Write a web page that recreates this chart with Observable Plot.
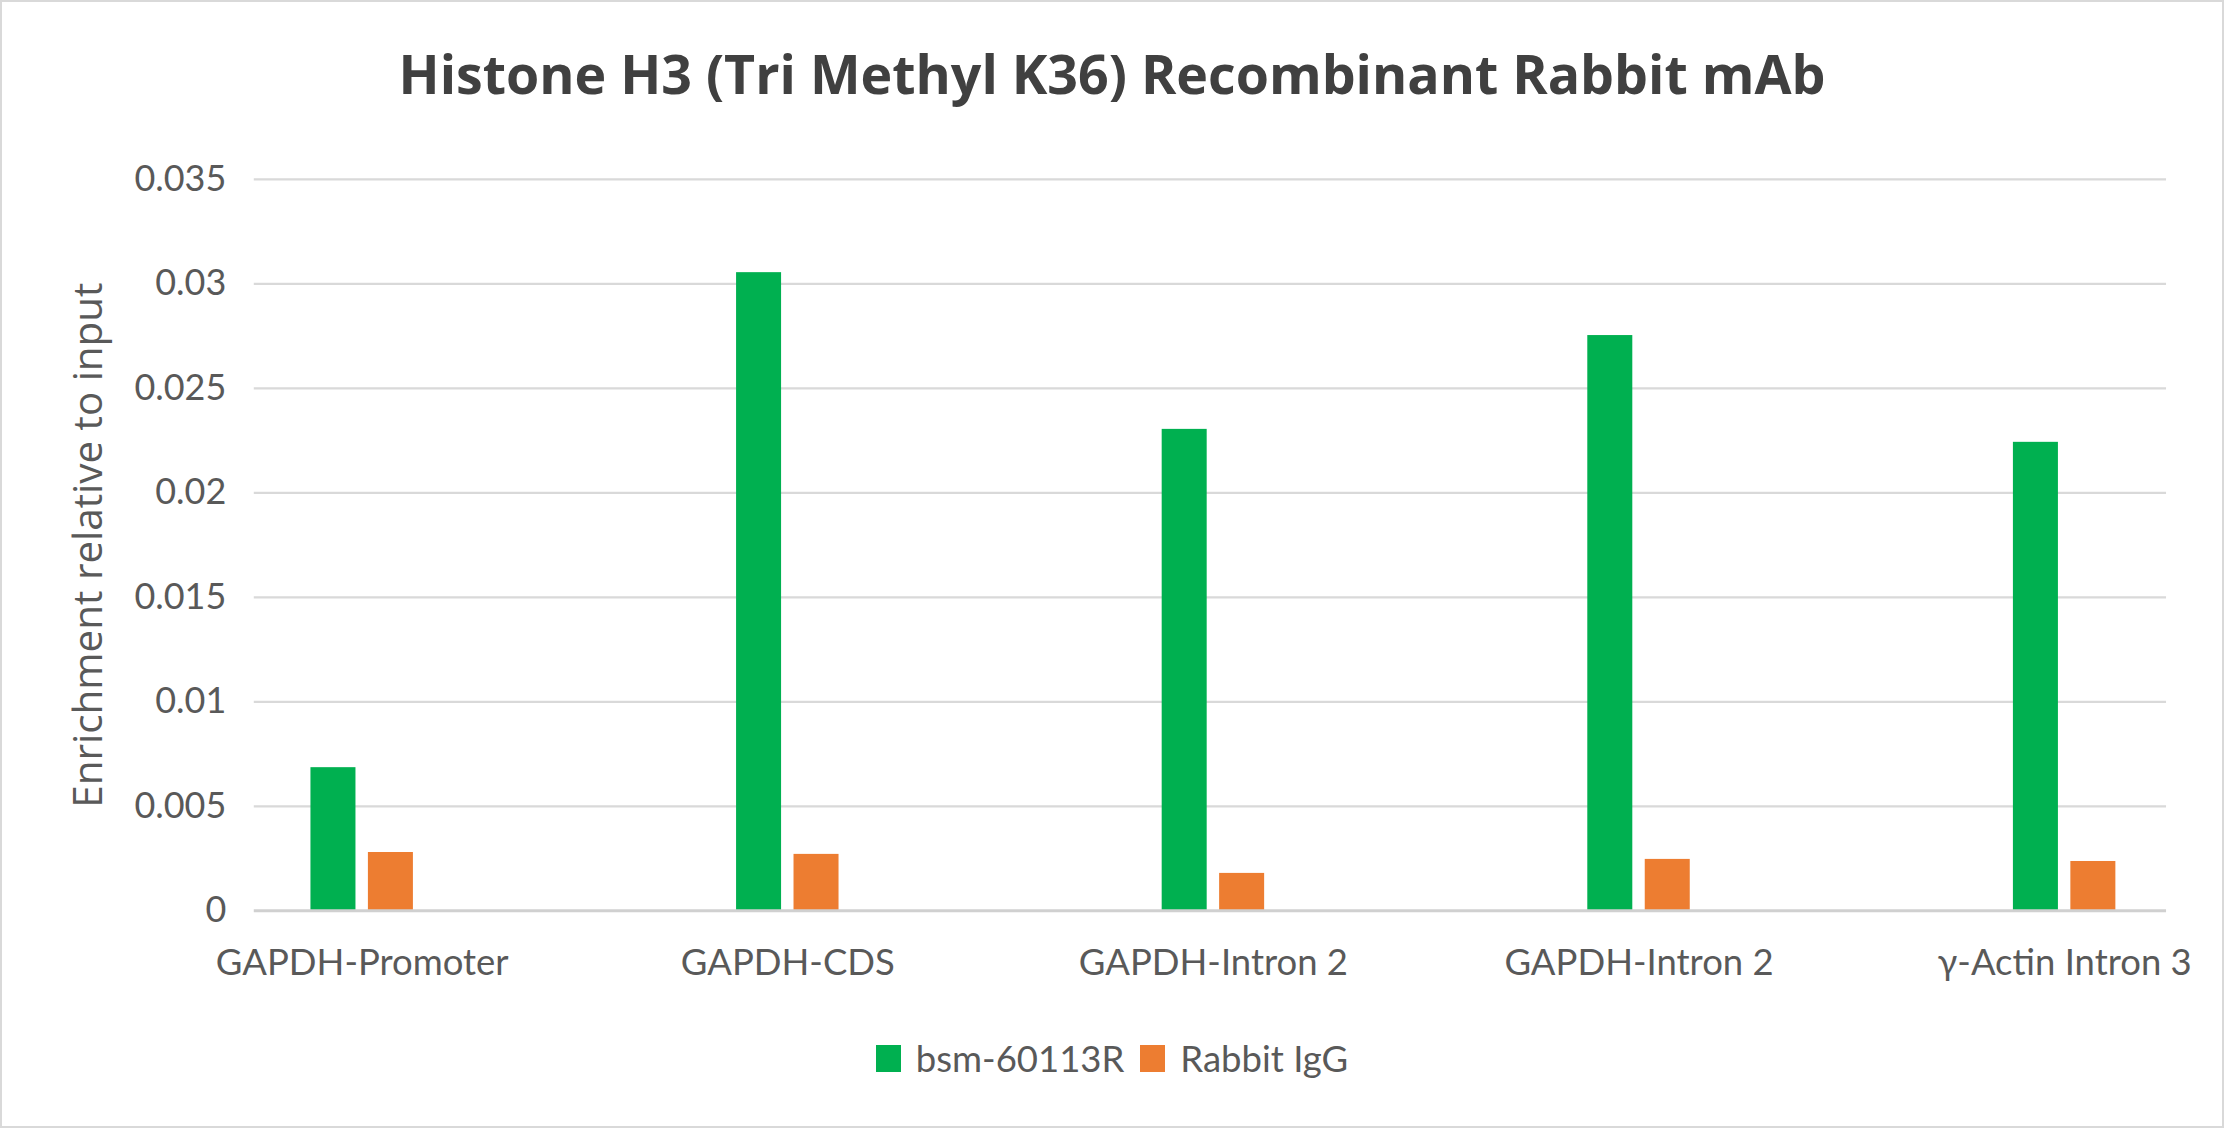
<!DOCTYPE html>
<html>
<head>
<meta charset="utf-8">
<script src="https://cdn.jsdelivr.net/npm/d3@7"></script>
<script src="https://cdn.jsdelivr.net/npm/@observablehq/plot@0.6"></script>
<style>
  html, body { margin: 0; padding: 0; background: #fff; }
  #wrap { position: relative; width: 2224px; height: 1128px; box-sizing: border-box; border: 2px solid #d9d9d9; background: #fff; overflow: hidden; }
  #title { position: absolute; left: 0; width: 2220px; top: 37px; text-align: center; font-family: "Open Sans", sans-serif; font-weight: 700; font-size: 53.7px; line-height: 70px; color: #404040; }
  #chart { position: absolute; left: -2px; top: 138px; }
  #legend { position: absolute; left: 0; width: 2220px; top: 1034px; display: flex; justify-content: center; align-items: center; font-family: Lato, sans-serif; font-size: 36.5px; color: #595959; }
  .item { display: flex; align-items: center; margin: 0 8px; }
  .sw { width: 25px; height: 27px; margin-right: 15px; }
</style>
</head>
<body>
<div id="wrap">
  <div id="title">Histone H3 (Tri Methyl K36) Recombinant Rabbit mAb</div>
  <div id="chart"></div>
  <div id="legend"></div>
</div>
<script>
const categories = ["GAPDH-Promoter", "GAPDH-CDS", "GAPDH-Intron 2", "GAPDH-Intron 2", "γ-Actin Intron 3"];
const seriesNames = ["bsm-60113R", "Rabbit IgG"];
const bsmValues = [0.00685, 0.03054, 0.02304, 0.02753, 0.02242];
const iggValues = [0.00279, 0.00270, 0.00179, 0.00246, 0.00236];
const yTicks = [0, 0.005, 0.01, 0.015, 0.02, 0.025, 0.03, 0.035];
const yTickLabels = ["0", "0.005", "0.01", "0.015", "0.02", "0.025", "0.03", "0.035"];
const colors = ["#00b050", "#ed7d31"];

const idx = categories.map((_, i) => i);
const bsmData = idx.map(i => ({i, v: bsmValues[i]}));
const iggData = idx.map(i => ({i, v: iggValues[i]}));

const W = 2224, H = 880;
const step = (2064.6 - 358.8) / 4;
const half = step / 2;
const barW = 45.5, gap = 12;
const outer = half - gap / 2 - barW;
const inner = half + gap / 2;

const chart = Plot.plot({
  width: W,
  height: H,
  marginLeft: 254,
  marginRight: 56,
  marginTop: 39,
  marginBottom: 109,
  style: { background: "transparent", overflow: "visible" },
  x: { type: "band", domain: idx, range: [358.8 - half + 2, 2064.6 + half + 2], padding: 0 },
  y: { domain: [0, 0.035] },
  marks: [
    Plot.ruleY(yTicks.slice(1), { stroke: "#d9d9d9", strokeWidth: 2.2 }),
    Plot.barY(bsmData, { x: "i", y: "v", fill: colors[0], insetLeft: outer, insetRight: inner }),
    Plot.barY(iggData, { x: "i", y: "v", fill: colors[1], insetLeft: inner, insetRight: outer }),
    Plot.ruleY([0], { stroke: "#d0d0d0", strokeWidth: 3 }),
    Plot.axisY({
      ticks: yTicks,
      tickSize: 0,
      tickPadding: 28,
      tickFormat: (d, k) => yTickLabels[k],
      fontSize: 36,
      fontFamily: "Lato, sans-serif",
      fill: "#595959",
      label: null
    }),
    Plot.axisX({
      tickSize: 0,
      tickPadding: 38,
      tickFormat: i => categories[i],
      fontSize: 36.5,
      fontFamily: "Lato, sans-serif",
      fill: "#595959",
      label: null
    }),
    Plot.text(["Enrichment relative to input"], {
      frameAnchor: "left",
      textAnchor: "middle",
      dx: -165,
      rotate: -90,
      text: d => d,
      fontSize: 40.4,
      fontFamily: "'Open Sans', sans-serif",
      fill: "#595959"
    })
  ]
});
document.getElementById("chart").appendChild(chart);

const legend = document.getElementById("legend");
seriesNames.forEach((name, k) => {
  const item = document.createElement("div");
  item.className = "item";
  const sw = document.createElement("div");
  sw.className = "sw";
  sw.style.background = colors[k];
  const lab = document.createElement("span");
  lab.textContent = name;
  item.appendChild(sw);
  item.appendChild(lab);
  legend.appendChild(item);
});
</script>
</body>
</html>
